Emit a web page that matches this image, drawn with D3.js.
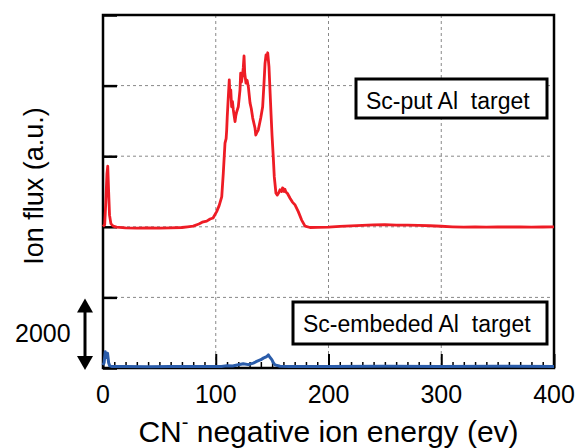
<!DOCTYPE html>
<meta charset="utf-8">
<body style="margin:0;background-color:white;">
<svg width="584" height="448"></svg>
<script src="https://d3js.org/d3.v7.min.js"></script>
<script>

// red curve: Sc-put Al target (shifted up by redOffset on the plot)
var putEnergy = [0, 1.5, 2.5, 3.5, 4.2, 5, 5.8, 7, 9, 12, 20, 30, 40, 50, 60, 70, 75, 80, 85, 88, 92, 95, 97.6,
  100.8, 103, 105.3, 106.7, 108.2, 109.2, 109.7, 110.2, 111, 112, 112.6, 113.3, 114.1, 114.8, 115.6, 116.3, 117.1,
  117.8, 118.6, 120, 121.5, 122.1, 122.8, 123.9, 124.4, 125.1, 125.7, 126.8, 127.8, 128.9, 130.4, 131.5, 132.8,
  134.8, 135.5, 136.3, 137.7, 139.9, 141.6, 142.8, 143.7, 144.6, 145.3, 146.1, 147.2, 148.1, 149, 149.9, 151, 151.9,
  153.4, 154.6, 156, 157, 158.5, 159.2, 160, 160.7, 161.4, 162.3, 163.5, 165.9, 168, 170.3, 173.2, 176.2,
  179.2, 183.6, 190, 200, 210, 220, 230, 240, 250, 260, 270, 280, 290, 300, 310, 320, 330, 340, 350, 360, 370,
  380, 390, 400];
var putFlux = [10, 60, 700, 1500, 1720, 1000, 330, 90, 20, -10, -30, -35, -30, -35, -30, -20, 0, 20, 80, 130, 160,
  220, 250, 430, 600, 850, 1520, 2370, 2500, 2740, 3120, 3600, 4160, 3700, 3880, 3400, 3550, 3310, 3150, 2980,
  3150, 3260, 3400, 3880, 4350, 4100, 4350, 4500, 4840, 4350, 4070, 4150, 3970, 3510, 3350, 3080,
  2800, 2600, 2660, 2740, 3080, 3400, 4070, 4630, 4870, 4750, 4930, 4540, 3880, 3220, 2600, 1990, 1420,
  950, 900, 970, 1050, 1000, 1100, 1080, 1000, 1060, 980, 950, 810, 700, 620, 430, 190, 20, -20, -15, -10, 10, 25,
  40, 55, 60, 50, 45, 40, 30, 15, 0, -10, -5, -10, 0, -5, 0, -10, -5, 0];
var redOffset = 4000;

// blue curve: Sc-embeded Al target
var embEnergy = [0, 1, 2, 3, 4, 5, 6, 8, 20, 40, 60, 80, 100, 105, 110, 115, 120, 124.4, 128.9, 133.3, 136.3,
  140, 142.2, 145.2, 146.6, 148, 149.6, 151, 152.5, 157, 165, 200, 250, 300, 350, 400];
var embFlux = [80, 150, 460, 300, 420, 150, 60, 40, 40, 35, 40, 40, 40, 40, 65, 55, 90, 120, 95, 140, 185, 235,
  280, 325, 370, 305, 245, 155, 90, 50, 45, 45, 50, 45, 50, 45];

var xTicks = [0, 100, 200, 300, 400];
var yTicks = [0, 2000, 4000, 6000, 8000, 10000];

var svgContainer = d3.select("svg");
var font = "'Liberation Sans', Arial, sans-serif";

var plotLeft = 103, plotRight = 554, plotTop = 15, plotBottom = 368;

var x = d3.scaleLinear().domain([0, 400]).range([plotLeft, plotRight]);
var y = d3.scaleLinear().domain([0, 10000]).range([plotBottom, plotTop]);

// dashed grid
var grid = svgContainer.append('g');
grid.selectAll('line.h')
	.data(yTicks.slice(1, -1))
	.enter().append('line')
	.attr('x1', plotLeft).attr('x2', plotRight)
	.attr('y1', function(d) { return y(d); })
	.attr('y2', function(d) { return y(d); })
	.attr('stroke', '#888')
	.attr('stroke-width', 1)
	.attr('stroke-dasharray', '3,3');
grid.selectAll('line.v')
	.data(xTicks.slice(1, -1))
	.enter().append('line')
	.attr('y1', plotTop).attr('y2', plotBottom)
	.attr('x1', function(d) { return x(d); })
	.attr('x2', function(d) { return x(d); })
	.attr('stroke', '#888')
	.attr('stroke-width', 1)
	.attr('stroke-dasharray', '3,3');

// axes: inner ticks, no y labels
var yAxis = d3.axisRight(y).tickValues(yTicks).tickSize(14).tickFormat('');
svgContainer.append('g')
	.attr('transform', 'translate(' + plotLeft + ',0)')
	.call(yAxis)
	.call(function(g) {
		g.select('.domain').remove();
		g.selectAll('line').attr('stroke', '#000').attr('stroke-width', 2.5);
	});

var minorX = d3.range(10, 400, 10).filter(function(d) { return d % 100 != 0; });
svgContainer.append('g')
	.attr('transform', 'translate(0,' + plotBottom + ')')
	.call(d3.axisTop(x).tickValues(minorX).tickSize(6).tickFormat(''))
	.call(function(g) {
		g.select('.domain').remove();
		g.selectAll('line').attr('stroke', '#000').attr('stroke-width', 1.5);
	});

var xAxis = d3.axisTop(x).tickValues(xTicks).tickSize(14).tickFormat('');
svgContainer.append('g')
	.attr('transform', 'translate(0,' + plotBottom + ')')
	.call(xAxis)
	.call(function(g) {
		g.select('.domain').remove();
		g.selectAll('line').attr('stroke', '#000').attr('stroke-width', 2);
	});

// frame
svgContainer.append('rect')
	.attr('x', plotLeft).attr('y', plotTop)
	.attr('width', plotRight - plotLeft).attr('height', plotBottom - plotTop)
	.attr('fill', 'none')
	.attr('stroke', '#000')
	.attr('stroke-width', 2.5);

// curves, on top of the axis lines
var line = d3.line()
	.x(function(d) { return x(d[0]); })
	.y(function(d) { return y(d[1]); });

var putData = putEnergy.map(function(e, i) { return [e, putFlux[i] + redOffset]; });
var embData = embEnergy.map(function(e, i) { return [e, embFlux[i]]; });

svgContainer.append('path')
	.attr('d', line(embData))
	.attr('fill', 'none')
	.attr('stroke', '#2a5caa')
	.attr('stroke-width', 3)
	.attr('stroke-linejoin', 'round');
svgContainer.append('path')
	.attr('d', line(putData))
	.attr('fill', 'none')
	.attr('stroke', '#ee1c25')
	.attr('stroke-width', 2.8)
	.attr('stroke-linejoin', 'round');

// x tick labels
svgContainer.selectAll('text.xl')
	.data(xTicks)
	.enter().append('text')
	.attr('x', function(d) { return x(d); })
	.attr('y', 403)
	.attr('text-anchor', 'middle')
	.style('font-family', font)
	.style('font-size', '25px')
	.text(function(d) { return d; });

// x title with superscript minus
var xTitle = svgContainer.append('text')
	.attr('x', (plotLeft + plotRight) / 2)
	.attr('y', 442)
	.attr('text-anchor', 'middle')
	.style('font-family', font)
	.style('font-size', '30px');
xTitle.append('tspan').text('CN');
xTitle.append('tspan').attr('dy', -13).style('font-size', '20px').text('-');
xTitle.append('tspan').attr('dy', 13).text(' negative ion energy (ev)');

// y title
svgContainer.append('text')
	.attr('transform', 'translate(43,186)rotate(-90)')
	.attr('text-anchor', 'middle')
	.style('font-family', font)
	.style('font-size', '27px')
	.text('Ion flux (a.u.)');

// scale arrow (one 2000 step)
var arrowX = 85;
var arrow = svgContainer.append('g');
arrow.append('line')
	.attr('x1', arrowX).attr('x2', arrowX)
	.attr('y1', y(2000) + 10).attr('y2', y(0) - 10)
	.attr('stroke', '#000')
	.attr('stroke-width', 3);
arrow.append('path')
	.attr('d', 'M' + arrowX + ',' + (y(2000) + 1) + 'l-8,14h16z')
	.attr('fill', '#000');
arrow.append('path')
	.attr('d', 'M' + arrowX + ',' + (y(0) + 2) + 'l-8,-14h16z')
	.attr('fill', '#000');
svgContainer.append('text')
	.attr('x', 15).attr('y', 342)
	.style('font-family', font)
	.style('font-size', '25px')
	.text('2000');

// label boxes
function labelBox(x0, y0, w, h, label, tx, ty) {
	svgContainer.append('rect')
		.attr('x', x0).attr('y', y0)
		.attr('width', w).attr('height', h)
		.attr('fill', 'white')
		.attr('stroke', '#000')
		.attr('stroke-width', 3);
	svgContainer.append('text')
		.attr('x', tx).attr('y', ty)
		.style('font-family', font)
		.style('font-size', '23px')
		.style('white-space', 'pre')
		.text(label);
}
labelBox(356, 79, 191, 39, 'Sc-put Al  target', 366, 109);
labelBox(293, 302, 254, 42, 'Sc-embeded Al  target', 303, 332);

</script>
</body>
